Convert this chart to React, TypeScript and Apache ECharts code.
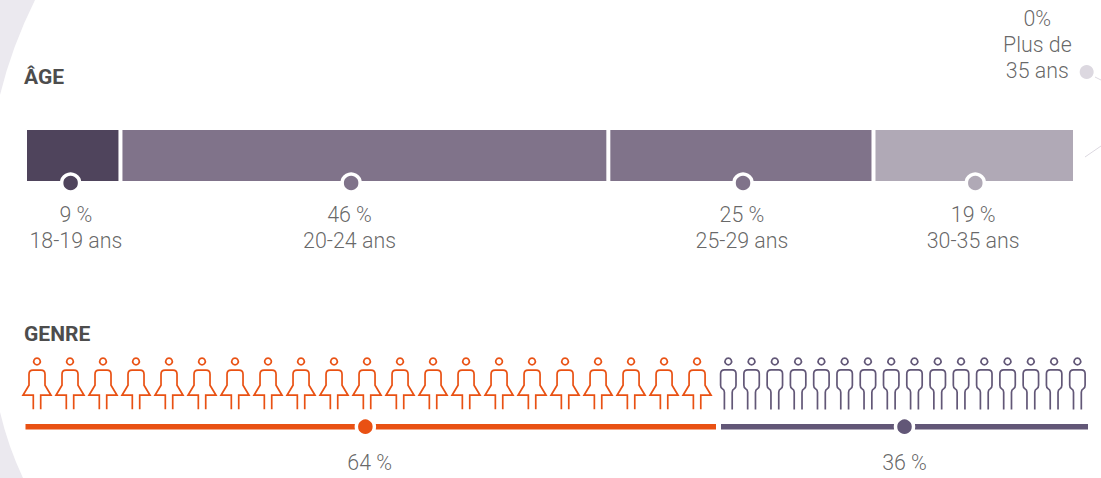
import React, { useEffect, useRef } from "react";
import * as echarts from "echarts";

const FONT = "Roboto";
const ageCategories = ["18-19 ans", "20-24 ans", "25-29 ans", "30-35 ans", "Plus de\n35 ans"];
const ageValues = [9, 46, 25, 19, 0];
const ageColors = ["#4f445c", "#80738a", "#80738a", "#b0a9b6", "#dcd8e0"];
const ageMarkerX = [4.3, 30.75, 67.7, 89.6];
const ageLabelX = [4.8, 30.6, 67.6, 89.4];
const outsideMarkerX = 100.1;
const outsideLabelX = 95.45;
const genderCategories = ["Femmes", "Hommes"];
const genderValues = [64, 36];
const genderColors = ["#e95113", "#625777"];
const genderMarkerX = [31.5, 18];
const genderLabelX = [31.9, 18];
const figureCounts = [21, 16];
const figureFirstX = [1.066, 0.716];
const figureStepX = [3.059, 2.283];

const womanPath =
  "M14 0A3.3 3.3 0 1 1 13.99 0ZM10.3 51L10.3 37L0 37L6 27L6 16Q6 12 10 12L18 12Q22 12 22 16L22 27L28 37L17.7 37L17.7 51";
const manPath =
  "M7.7 0A3.3 3.3 0 1 1 7.69 0ZM3.8 51.4L3.8 34Q3.8 31.6 1.8 30.6Q0 29.6 0 27L0 15.5Q0 11.6 3.9 11.6L11.5 11.6Q15.4 11.6 15.4 15.5L15.4 27Q15.4 29.6 13.6 30.6Q11.6 31.6 11.6 34L11.6 51.4";
const figurePaths = [womanPath, manPath];
const figureSizes = [[28, 51], [15.4, 51.4]];

echarts.graphic.registerShape("swooshTop", echarts.graphic.extendPath("M0 0L35 0Q12 46 0 95Z" as any, {}) as any);
echarts.graphic.registerShape("swooshBottom", echarts.graphic.extendPath("M0 412Q8 446 23 478L0 478Z" as any, {}) as any);

const ring = (color: string) => ({ color, borderColor: "#ffffff", borderWidth: 3.5, opacity: 1 });
const textStyle = { fontFamily: FONT, fontWeight: 300 as any, fontSize: 21.4, color: "#3f3f3f", lineHeight: 26, align: "center" as any };
const titleStyle = { fontFamily: FONT, fontWeight: 700 as any, fontSize: 21, color: "#4d4d4d" };

function buildOption() {
  const series: any[] = [];
  ageValues.forEach((v, i) => {
    series.push({
      type: "bar", stack: "age", xAxisIndex: 0, yAxisIndex: 0, barWidth: 55, data: [v], name: ageCategories[i],
      itemStyle: { color: ageColors[i], borderColor: "#ffffff", borderWidth: v > 0 ? 2 : 0 },
    });
  });
  ageMarkerX.forEach((x, i) => {
    series.push({
      type: "scatter", xAxisIndex: 0, yAxisIndex: 0, z: 4, clip: false, symbolSize: 18, symbolOffset: [0, 27.5],
      data: [[x, 0]], itemStyle: ring(ageColors[i]),
    });
    series.push({
      type: "scatter", xAxisIndex: 0, yAxisIndex: 0, z: 4, clip: false, symbolSize: 1, data: [[ageLabelX[i], 0]],
      itemStyle: { color: "transparent" },
      label: { show: true, position: "inside", offset: [0, 72], formatter: `${ageValues[i]} %\n${ageCategories[i]}`, ...textStyle },
    });
  });
  series.push({
    type: "scatter", xAxisIndex: 0, yAxisIndex: 0, z: 4, clip: false, symbolSize: 14, symbolOffset: [0, -83.5],
    data: [[outsideMarkerX, 0]], itemStyle: { color: ageColors[4], opacity: 1 },
  });
  series.push({
    type: "scatter", xAxisIndex: 0, yAxisIndex: 0, z: 4, clip: false, symbolSize: 1, data: [[outsideLabelX, 0]],
    itemStyle: { color: "transparent" },
    label: { show: true, position: "inside", offset: [0, -111], formatter: `${ageValues[4]}%\n${ageCategories[4]}`, ...textStyle },
  });
  genderValues.forEach((v, i) => {
    const ax = i + 1;
    const [w, h] = figureSizes[i];
    const figureData: number[][] = [];
    for (let k = 0; k < figureCounts[i]; k++) figureData.push([figureFirstX[i] + k * figureStepX[i], 0]);
    series.push({
      type: "bar", xAxisIndex: ax, yAxisIndex: ax, barWidth: 5.4, data: [v], name: genderCategories[i],
      itemStyle: { color: genderColors[i] },
    });
    series.push({
      type: "custom", xAxisIndex: ax, yAxisIndex: ax, z: 3, clip: false, data: figureData,
      encode: { x: 0, y: 1 },
      renderItem: (_p: any, api: any) => {
        const c = api.coord([api.value(0), 0]);
        return {
          type: "path",
          shape: { pathData: figurePaths[i], x: c[0] - w / 2, y: c[1] - 68.5, width: w, height: h, layout: "cover" },
          style: { fill: "none", stroke: genderColors[i], lineWidth: 1.7 },
        };
      },
    });
    series.push({
      type: "scatter", xAxisIndex: ax, yAxisIndex: ax, z: 4, clip: false, symbolSize: 18,
      data: [[genderMarkerX[i], 0]], itemStyle: ring(genderColors[i]),
    });
    series.push({
      type: "scatter", xAxisIndex: ax, yAxisIndex: ax, z: 4, clip: false, symbolSize: 1,
      data: [[genderLabelX[i], 0]], itemStyle: { color: "transparent" },
      label: { show: true, position: "inside", offset: [0, 36], formatter: `${v} %`, ...textStyle },
    });
  });

  const hiddenY = (gridIndex: number, name: string) => ({ type: "category", gridIndex, show: false, data: [name] });
  const hiddenX = (gridIndex: number, max: number) => ({ type: "value", gridIndex, show: false, min: 0, max });

  return {
    animation: false,
    backgroundColor: "#ffffff",
    title: [
      { text: "ÂGE", left: 24, top: 66, padding: 0, textStyle: titleStyle },
      { text: "GENRE", left: 24, top: 323, padding: 0, textStyle: titleStyle },
    ],
    grid: [
      { left: 25, top: 128, width: 1050, height: 55 },
      { left: 25.5, top: 424, width: 690.5, height: 5.4 },
      { left: 721, top: 424, width: 367, height: 5.4 },
    ],
    xAxis: [hiddenX(0, 99), hiddenX(1, 64), hiddenX(2, 36)],
    yAxis: [hiddenY(0, "Âge"), hiddenY(1, "Femmes"), hiddenY(2, "Hommes")],
    graphic: [
      { type: "swooshTop", silent: true, z: -1, style: { fill: "#ebe9ef" } },
      { type: "swooshBottom", silent: true, z: -1, style: { fill: "#ebe9ef" } },
      { type: "line", silent: true, shape: { x1: 1095, y1: 77, x2: 1101, y2: 80 }, style: { stroke: "#dcd8e0", lineWidth: 1 } },
      { type: "line", silent: true, shape: { x1: 1085, y1: 157, x2: 1101, y2: 146 }, style: { stroke: "#dcd8e0", lineWidth: 1 } },
    ],
    series,
  };
}

export default function App() {
  const ref = useRef<HTMLDivElement>(null);
  useEffect(() => {
    const chart = echarts.init(ref.current!, undefined, { renderer: "svg" });
    chart.setOption(buildOption() as any);
    return () => chart.dispose();
  }, []);
  return <div ref={ref} style={{ position: "absolute", left: 0, top: 0, width: 1101, height: 478 }} />;
}
